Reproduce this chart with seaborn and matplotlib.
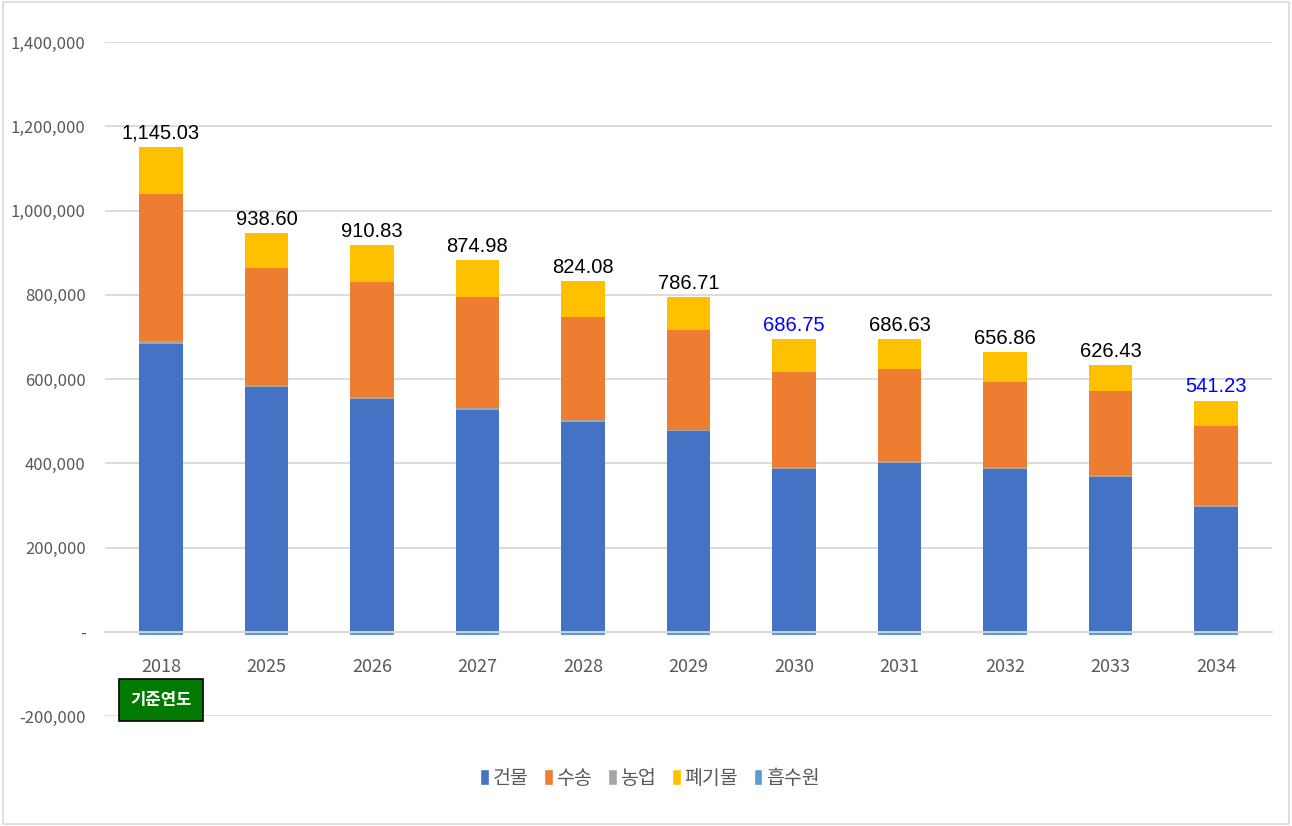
import matplotlib
matplotlib.use('Agg')
import matplotlib.pyplot as plt
import seaborn as sns
import numpy as np
import pandas as pd
from matplotlib.patches import Patch, Rectangle
from matplotlib.ticker import FuncFormatter

years = ['2018', '2025', '2026', '2027', '2028', '2029', '2030', '2031', '2032', '2033', '2034']
building = [683000, 580000, 552000, 527000, 498000, 476000, 386000, 401000, 386000, 367000, 297000]
transport = [349000, 279000, 274000, 263000, 245000, 237000, 227000, 219000, 203000, 200000, 188000]
agriculture = [8000, 5000, 5000, 5000, 5000, 4000, 4000, 4000, 4000, 4000, 3000]
waste = [112000, 83000, 88000, 88000, 84000, 78000, 78000, 71000, 72000, 63000, 61000]
sink = [-8000, -8000, -8000, -8000, -8000, -8000, -8000, -8000, -8000, -8000, -8000]
total_labels = ['1,145.03', '938.60', '910.83', '874.98', '824.08', '786.71',
                '686.75', '686.63', '656.86', '626.43', '541.23']
label_colors = ['black'] * 6 + ['blue'] + ['black'] * 3 + ['blue']

series_names = ['건물', '수송', '농업', '폐기물', '흡수원']
series_colors = ['#4472C4', '#ED7D31', '#A5A5A5', '#FFC000', '#5B9BD5']

sns.set_style('white')
plt.rcParams['font.family'] = ['Noto Sans CJK KR', 'DejaVu Sans']

fig = plt.figure(figsize=(12.92, 8.26), dpi=100)
ax = fig.add_axes([0.0813, 0.1332, 0.9032, 0.8158])

# stacking order from bottom: building, agriculture, transport, waste
layers = [('건물', building), ('농업', agriculture), ('수송', transport), ('폐기물', waste)]
cum = np.zeros(len(years))
tops = []
for name, vals in layers:
    cum = cum + np.array(vals)
    tops.append((name, cum.copy()))

color_map = dict(zip(series_names, series_colors))
# draw tallest first so lower layers paint over
for name, top in reversed(tops):
    df = pd.DataFrame({'year': years, 'value': top})
    sns.barplot(data=df, x='year', y='value', color=color_map[name], saturation=1,
                width=0.41, errorbar=None, ax=ax, linewidth=0)

df_sink = pd.DataFrame({'year': years, 'value': sink})
sns.barplot(data=df_sink, x='year', y='value', color=color_map['흡수원'], saturation=1,
            width=0.41, errorbar=None, ax=ax, linewidth=0)

final_top = tops[-1][1]
for i, (lbl, col) in enumerate(zip(total_labels, label_colors)):
    ax.annotate(lbl, (i, final_top[i]), xytext=(0, 3), textcoords='offset points',
                ha='center', va='bottom', fontsize=14.5, color=col,
                family=['Liberation Sans', 'DejaVu Sans'])

ax.set_ylim(-200000, 1400000)
ax.set_xlim(-0.53, 10.53)
ax.set_yticks(np.arange(-200000, 1400001, 200000))
ax.yaxis.set_major_formatter(FuncFormatter(lambda v, p: '-' if v == 0 else f'{v:,.0f}'))
ax.grid(axis='y', color='#D9D9D9', linewidth=1.3)
ax.set_axisbelow(True)
for s in ['top', 'right', 'left']:
    ax.spines[s].set_visible(False)
ax.spines['bottom'].set_position(('data', 0))
ax.spines['bottom'].set_color('#D9D9D9')
ax.spines['bottom'].set_linewidth(1.3)
ax.tick_params(axis='x', length=0, pad=19, labelsize=13, labelcolor='#595959')
ax.tick_params(axis='y', length=0, pad=14, labelsize=12, labelcolor='#595959')
ax.set_xlabel('')
ax.set_ylabel('')

ax.text(0, -162000, '기준연도', ha='center', va='center', color='white',
        fontsize=12, fontweight='bold',
        bbox=dict(boxstyle='square,pad=0.7', fc='#007A00', ec='black', lw=1.2))

handles = [Patch(facecolor=c, label=n) for n, c in zip(series_names, series_colors)]
fig.legend(handles=handles, loc='center', bbox_to_anchor=(0.503, 0.058), ncol=5,
           frameon=False, fontsize=14, handlelength=0.45, handleheight=0.9,
           handletextpad=0.2, columnspacing=0.8, labelcolor='#595959')

fig.patches.append(Rectangle((0.002, 0.003), 0.996, 0.994, transform=fig.transFigure,
                             fill=False, ec='#D9D9D9', lw=1.2))

fig.savefig('out.png', dpi=100)
